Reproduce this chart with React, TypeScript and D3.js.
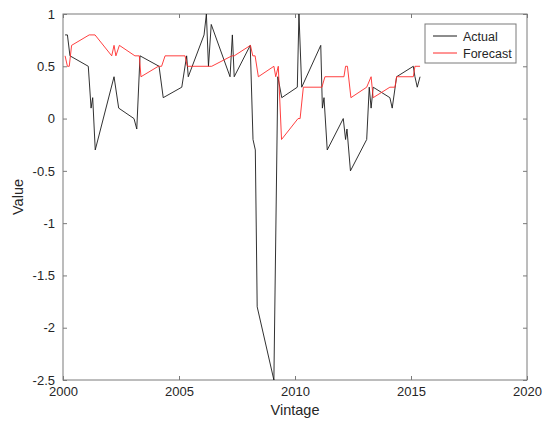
import { useRef, useEffect } from 'react';
import * as d3 from 'd3';

// vintage dates (fractional years) and values
const actualDates = [
  2000.09, 2000.19, 2000.3, 2001.09, 2001.21, 2001.28, 2001.39, 2002.2, 2002.4, 2003.06,
  2003.18, 2003.32, 2004.14, 2004.32, 2005.12, 2005.33, 2005.4, 2006.08, 2006.18, 2006.27,
  2006.39, 2007.2, 2007.3, 2007.38, 2008.07, 2008.19, 2008.29, 2008.37, 2009.09, 2009.26,
  2009.43, 2010.1, 2010.17, 2010.29, 2011.11, 2011.18, 2011.25, 2011.39, 2012.08, 2012.18,
  2012.24, 2012.39, 2013.09, 2013.2, 2013.28, 2013.37, 2014.09, 2014.19, 2014.38, 2015.1,
  2015.17, 2015.27, 2015.39,
];
const actualValues = [
  0.8, 0.8, 0.6, 0.5, 0.1, 0.2, -0.3, 0.4, 0.1, 0.0,
  -0.1, 0.6, 0.5, 0.2, 0.3, 0.6, 0.4, 0.8, 1.0, 0.5,
  0.9, 0.4, 0.8, 0.4, 0.7, -0.2, -0.3, -1.8, -2.5, 0.4,
  0.2, 0.3, 1.0, 0.3, 0.7, 0.1, 0.2, -0.3, 0.0, -0.2,
  -0.1, -0.5, -0.2, 0.3, 0.1, 0.3, 0.2, 0.1, 0.4, 0.5,
  0.4, 0.3, 0.4,
];

const forecastDates = [
  2000.09, 2000.19, 2000.27, 2000.37, 2001.13, 2001.38, 2002.1, 2002.2, 2002.28, 2002.43,
  2003.1, 2003.29, 2003.36, 2004.11, 2004.25, 2004.4, 2005.26, 2005.36, 2006.41, 2007.28,
  2007.38, 2008.08, 2008.18, 2008.28, 2008.42, 2009.09, 2009.17, 2009.28, 2009.42, 2010.13,
  2010.22, 2010.36, 2011.16, 2011.29, 2012.11, 2012.18, 2012.26, 2012.41, 2013.09, 2013.28,
  2013.37, 2014.09, 2014.31, 2014.38, 2015.1, 2015.17, 2015.39,
];
const forecastValues = [
  0.6, 0.5, 0.5, 0.7, 0.8, 0.8, 0.6, 0.7, 0.6, 0.7,
  0.6, 0.6, 0.4, 0.5, 0.5, 0.6, 0.6, 0.5, 0.5, 0.6,
  0.6, 0.7, 0.6, 0.6, 0.4, 0.5, 0.4, 0.5, -0.2, 0.0,
  0.0, 0.3, 0.3, 0.4, 0.4, 0.5, 0.5, 0.2, 0.3, 0.4,
  0.2, 0.3, 0.3, 0.4, 0.4, 0.5, 0.5,
];

const xTicks = [2000, 2005, 2010, 2015, 2020];
const yTicks = [1, 0.5, 0, -0.5, -1, -1.5, -2, -2.5];

const width = 551;
const height = 428;
const margin = { top: 14, right: 24, bottom: 48, left: 63 };
const font = 'Liberation Sans, Arial, sans-serif';
const axisColor = '#7a7a7a';

export default function App() {
  const ref = useRef<SVGSVGElement>(null);

  useEffect(() => {
    const svg = d3.select(ref.current);
    const innerWidth = width - margin.left - margin.right;
    const innerHeight = height - margin.top - margin.bottom;

    const x = d3.scaleLinear().domain([2000, 2020]).range([margin.left, margin.left + innerWidth]);
    const y = d3.scaleLinear().domain([-2.5, 1]).range([margin.top + innerHeight, margin.top]);

    const line = d3
      .line<[number, number]>()
      .x((d) => x(d[0]))
      .y((d) => y(d[1]));

    const actual = actualDates.map((d, i) => [d, actualValues[i]] as [number, number]);
    const forecast = forecastDates.map((d, i) => [d, forecastValues[i]] as [number, number]);

    // plot box
    svg
      .append('rect')
      .attr('x', margin.left)
      .attr('y', margin.top)
      .attr('width', innerWidth)
      .attr('height', innerHeight)
      .attr('fill', 'white')
      .attr('stroke', axisColor)
      .attr('stroke-width', 1);

    const styleAxis = (g: d3.Selection<SVGGElement, unknown, null, undefined>) => {
      g.select('.domain').remove();
      g.selectAll('line').attr('stroke', axisColor);
      g.selectAll('text').attr('fill', '#262626').attr('font-family', font).attr('font-size', 13);
    };

    svg
      .append('g')
      .attr('transform', `translate(0,${margin.top + innerHeight})`)
      .call(d3.axisBottom(x).tickValues(xTicks).tickFormat(d3.format('d')).tickSize(-4).tickPadding(7))
      .call(styleAxis);
    svg
      .append('g')
      .attr('transform', `translate(0,${margin.top})`)
      .call(d3.axisTop(x).tickValues(xTicks).tickFormat(() => '').tickSize(-4))
      .call(styleAxis);
    svg
      .append('g')
      .attr('transform', `translate(${margin.left},0)`)
      .call(d3.axisLeft(y).tickValues(yTicks).tickFormat((d) => String(d)).tickSize(-4).tickPadding(8))
      .call(styleAxis);
    svg
      .append('g')
      .attr('transform', `translate(${margin.left + innerWidth},0)`)
      .call(d3.axisRight(y).tickValues(yTicks).tickFormat(() => '').tickSize(-4))
      .call(styleAxis);

    svg
      .append('path')
      .datum(actual)
      .attr('d', line)
      .attr('fill', 'none')
      .attr('stroke', '#1a1a1a')
      .attr('stroke-width', 0.9);
    svg
      .append('path')
      .datum(forecast)
      .attr('d', line)
      .attr('fill', 'none')
      .attr('stroke', '#ff2a2a')
      .attr('stroke-width', 0.9);

    // axis titles
    svg
      .append('text')
      .attr('x', margin.left + innerWidth / 2)
      .attr('y', 415)
      .attr('text-anchor', 'middle')
      .attr('font-family', font)
      .attr('font-size', 14.5)
      .attr('fill', '#262626')
      .text('Vintage');
    svg
      .append('text')
      .attr('transform', `translate(23,${margin.top + innerHeight / 2}) rotate(-90)`)
      .attr('text-anchor', 'middle')
      .attr('font-family', font)
      .attr('font-size', 14.5)
      .attr('fill', '#262626')
      .text('Value');

    // legend
    const legend = svg.append('g').attr('transform', 'translate(425,24)');
    legend
      .append('rect')
      .attr('width', 91)
      .attr('height', 39)
      .attr('fill', 'white')
      .attr('stroke', axisColor);
    const items = [
      { name: 'Actual', color: '#1a1a1a' },
      { name: 'Forecast', color: '#ff2a2a' },
    ];
    items.forEach((it, i) => {
      const cy = 12 + i * 17;
      legend
        .append('line')
        .attr('x1', 8)
        .attr('x2', 32)
        .attr('y1', cy)
        .attr('y2', cy)
        .attr('stroke', it.color);
      legend
        .append('text')
        .attr('x', 38)
        .attr('y', cy + 4.5)
        .attr('font-family', font)
        .attr('font-size', 12.5)
        .attr('fill', '#262626')
        .text(it.name);
    });

    return () => {
      svg.selectAll('*').remove();
    };
  }, []);

  return (
    <svg
      ref={ref}
      width={width}
      height={height}
      style={{ position: 'absolute', left: 0, top: 0, background: 'white' }}
    ></svg>
  );
}
